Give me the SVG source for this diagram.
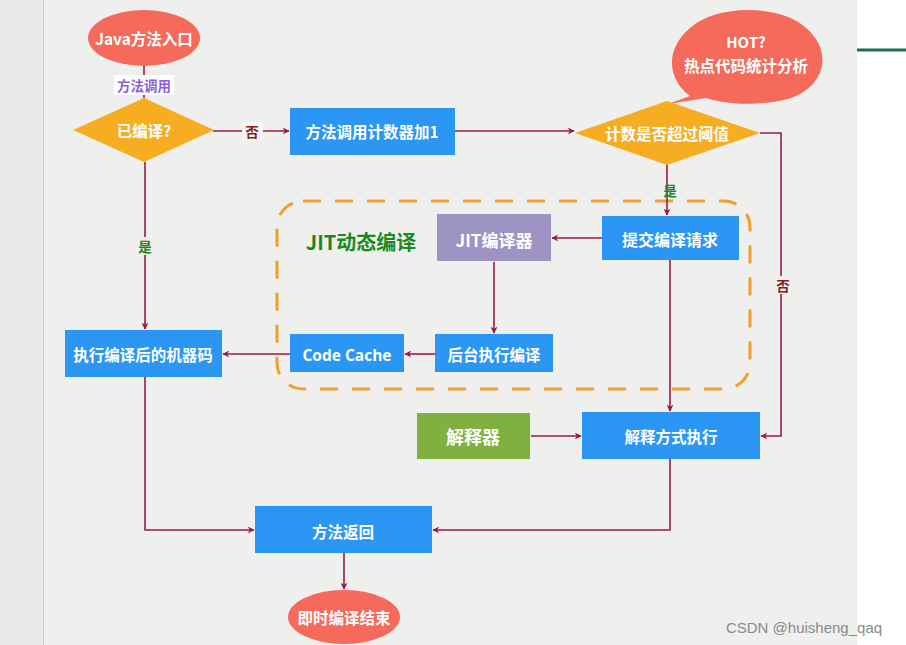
<svg xmlns="http://www.w3.org/2000/svg" width="906" height="645" viewBox="0 0 906 645">
<defs>
<marker id="ah" viewBox="0 0 10 10" refX="9" refY="5" markerWidth="7" markerHeight="7" markerUnits="userSpaceOnUse" orient="auto">
<path d="M0,0 L10,5 L0,10 L3,5 Z" fill="#9c1848"/>
</marker>
<style>
.t{font-family:"Noto Sans CJK SC","Liberation Sans",sans-serif;font-weight:bold;fill:#fff;font-size:15.5px;text-anchor:middle;dominant-baseline:central}
.blue{fill:#2b96f3}
.ln{fill:none;stroke:#9c1848;stroke-width:1.6}
.arr{marker-end:url(#ah)}
.lbl{font-family:"Noto Sans CJK SC","Liberation Sans",sans-serif;font-weight:bold;font-size:13.5px;text-anchor:middle;dominant-baseline:central}
</style>
</defs>
<rect width="906" height="645" fill="#efefee"/>
<rect width="43" height="645" fill="#e8e8e8"/>
<line x1="43.5" y1="0" x2="43.5" y2="645" stroke="#cfcfcf" stroke-width="1"/>
<rect x="857" y="0" width="49" height="645" fill="#ffffff"/>
<line x1="857" y1="50" x2="906" y2="50" stroke="#1d6b5c" stroke-width="3"/>

<g id="jit-region">
<rect x="277" y="201" width="473" height="188" rx="26" fill="none" stroke="#f0a030" stroke-width="3" stroke-dasharray="18,14"/>
<text x="361" y="241" class="lbl" style="fill:#1a8a1a;font-size:20px">JIT动态编译</text>
</g>

<g id="connectors">
<line class="ln" x1="144" y1="66" x2="144" y2="98"/>
<rect x="114" y="75" width="60" height="20" fill="#ffffff"/>
<text x="144" y="85" class="lbl" style="fill:#8b5fd9">方法调用</text>
<line class="ln arr" x1="213" y1="131" x2="289" y2="131"/>
<rect x="242" y="122" width="21" height="18" fill="#f6f6f6"/>
<text x="252" y="131" class="lbl" style="fill:#8a1c1c">否</text>
<line class="ln arr" x1="455" y1="131" x2="574" y2="131"/>
<line class="ln arr" x1="667" y1="165" x2="667" y2="215"/>
<text x="670" y="190" class="lbl" style="fill:#1a8a1a">是</text>
<line class="ln arr" x1="602" y1="238" x2="552" y2="238"/>
<line class="ln arr" x1="494" y1="262" x2="494" y2="333"/>
<line class="ln arr" x1="435" y1="354" x2="405" y2="354"/>
<line class="ln arr" x1="290" y1="354" x2="223" y2="354"/>
<line class="ln arr" x1="145" y1="162" x2="145" y2="329"/>
<rect x="136" y="237" width="18" height="18" fill="#efefee"/>
<text x="145" y="246" class="lbl" style="fill:#1a8a1a">是</text>
<polyline class="ln arr" points="760,133 781,133 781,436 761,436"/>
<rect x="773" y="276" width="18" height="18" fill="#efefee"/>
<text x="783" y="285" class="lbl" style="fill:#8a1c1c">否</text>
<line class="ln arr" x1="670" y1="260" x2="670" y2="411"/>
<line class="ln arr" x1="531" y1="436" x2="581" y2="436"/>
<polyline class="ln arr" points="670,459 670,530 433,530"/>
<polyline class="ln arr" points="145,377 145,530 254,530"/>
<line class="ln arr" x1="344" y1="553" x2="344" y2="589"/>
</g>

<g id="start">
<ellipse cx="144" cy="38" rx="56" ry="28" fill="#f56a5a"/>
<text x="144" y="38" class="t">Java方法入口</text>
</g>
<g id="compiled-decision">
<polygon points="73,130 144,98 214,130 144,162" fill="#f7ad22"/>
<text x="144" y="130" class="t">已编译?</text>
</g>
<g id="counter">
<rect x="290" y="108" width="165" height="47" class="blue"/>
<text x="372" y="131" class="t">方法调用计数器加1</text>
</g>
<g id="hot-bubble">
<path d="M690,96 C668,80 664,50 690,28 C716,4 780,4 806,28 C832,50 826,82 796,96 C772,106 730,106 706,98 L668,104 Z" fill="#f56a5a"/>
<text x="746" y="41" class="t" style="font-size:15px">HOT?</text>
<text x="746" y="65" class="t" style="font-size:15.5px">热点代码统计分析</text>
</g>
<g id="threshold-decision">
<polygon points="575,133 667,101 760,133 667,165" fill="#f7ad22"/>
<text x="667" y="133" class="t">计数是否超过阈值</text>
</g>
<g id="submit">
<rect x="602" y="216" width="137" height="44" class="blue"/>
<text x="670" y="239" class="t" style="font-size:16px">提交编译请求</text>
</g>
<g id="jit-compiler">
<rect x="437" y="214" width="114" height="47" fill="#9e94c4"/>
<text x="494" y="239" class="t" style="font-size:17px">JIT编译器</text>
</g>
<g id="background-compile">
<rect x="435" y="334" width="118" height="38" class="blue"/>
<text x="494" y="354" class="t">后台执行编译</text>
</g>
<g id="code-cache">
<rect x="290" y="334" width="114" height="38" class="blue"/>
<text x="347" y="355" class="t" style="font-family:'Open Sans','Liberation Sans',sans-serif">Code Cache</text>
</g>
<g id="exec-compiled">
<rect x="65" y="330" width="157" height="47" class="blue"/>
<text x="143" y="354" class="t">执行编译后的机器码</text>
</g>
<g id="interpreter">
<rect x="417" y="413" width="113" height="46" fill="#80b040"/>
<text x="473" y="436" class="t" style="font-size:18px">解释器</text>
</g>
<g id="interpret-exec">
<rect x="582" y="412" width="178" height="47" class="blue"/>
<text x="671" y="436" class="t">解释方式执行</text>
</g>
<g id="return">
<rect x="255" y="506" width="177" height="47" class="blue"/>
<text x="343" y="531" class="t">方法返回</text>
</g>
<g id="end">
<ellipse cx="344" cy="617" rx="56" ry="27" fill="#f56a5a"/>
<text x="344" y="617" class="t">即时编译结束</text>
</g>
<text x="804" y="627" style="font-family:'Liberation Sans',sans-serif;font-size:15px;fill:#8a8a8a;text-anchor:middle;dominant-baseline:central">CSDN @huisheng_qaq</text>
</svg>
